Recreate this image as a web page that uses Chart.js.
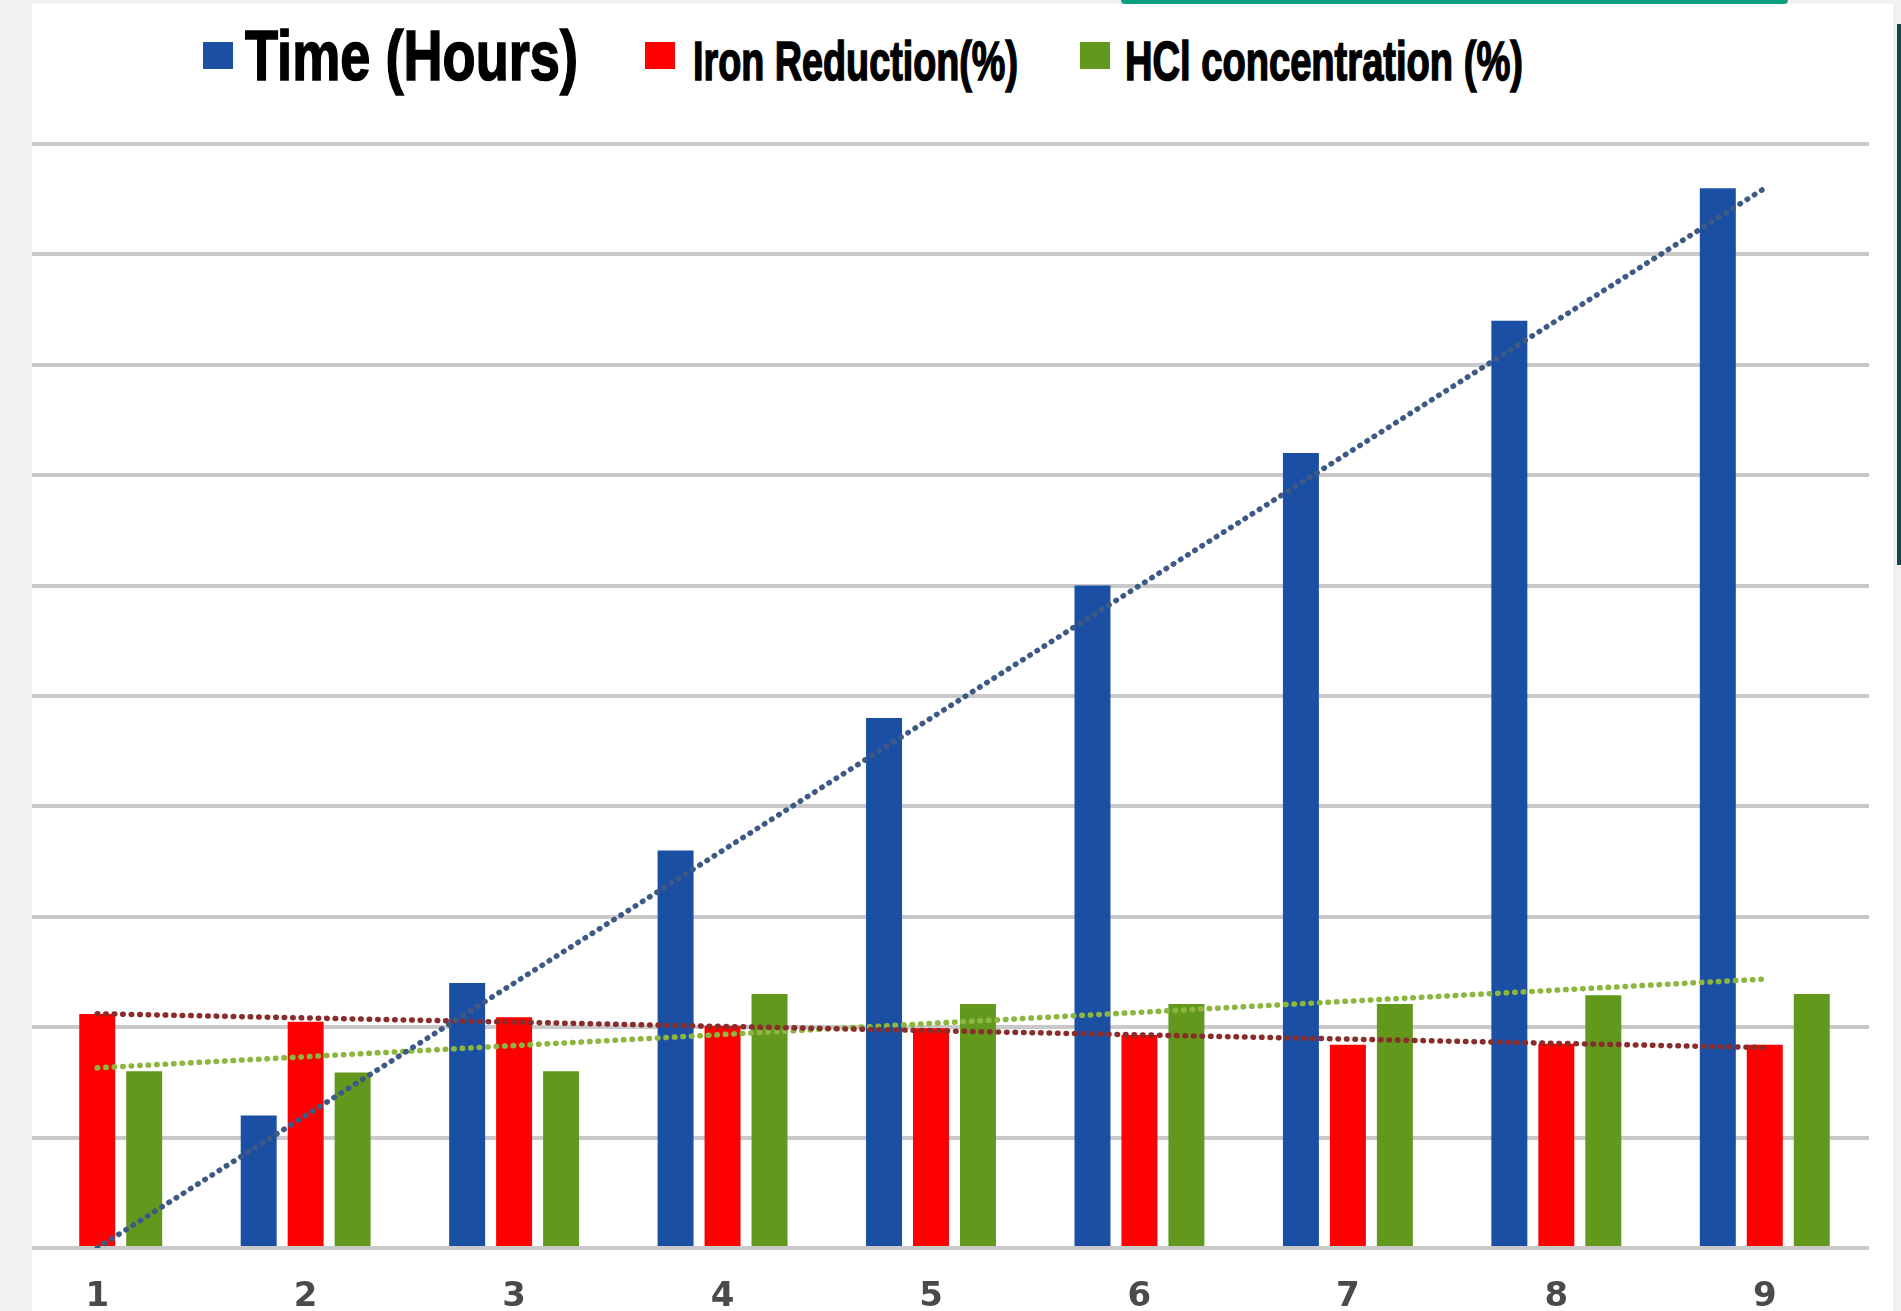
<!DOCTYPE html>
<html>
<head>
<meta charset="utf-8">
<script src="https://cdn.jsdelivr.net/npm/chart.js@4.4.0/dist/chart.umd.min.js"></script>
<style>
    html, body {
        margin: 0;
        padding: 0;
        width: 1901px;
        height: 1311px;
        overflow: hidden;
        background: #f1f1f1;
        position: relative;
    }
    .panel {
        position: absolute;
        left: 32px;
        top: 4px;
        width: 1861px;
        height: 1307px;
        background: #ffffff;
    }
    .top-tab {
        position: absolute;
        left: 1121px;
        top: 0;
        width: 667px;
        height: 4px;
        background: #0ba07f;
        border-radius: 0 0 4px 4px;
    }
    .side-bar {
        position: absolute;
        left: 1897px;
        top: 24px;
        width: 4px;
        height: 541px;
        background: #0d4a50;
    }
    .left-strip {
        position: absolute;
        left: 0;
        top: 0;
        width: 32px;
        height: 1311px;
        background: #f1f1f1;
        z-index: 3;
    }
    #chart-wrap {
        position: absolute;
        left: -7px;
        top: 134px;
        width: 1876px;
        height: 1200px;
        z-index: 2;
    }
    .legend-swatch {
        position: absolute;
        width: 30px;
        height: 27px;
        z-index: 4;
    }
    .legend-text {
        position: absolute;
        white-space: nowrap;
        line-height: 1;
        font-family: "Liberation Sans Narrow", "Liberation Sans", Arial, sans-serif;
        font-weight: bold;
        color: #000;
        -webkit-text-stroke: 1.6px #000;
        transform-origin: left top;
        z-index: 4;
    }
</style>
</head>
<body>
<div class="panel"></div>
<div class="top-tab"></div>
<div class="side-bar"></div>
<div id="chart-wrap"><canvas id="chart-bar"></canvas></div>
<div class="left-strip"></div>
<div id="legend"></div>

<script>
// sample number 1..9
const categories = ['1', '2', '3', '4', '5', '6', '7', '8', '9'];

// values (grid step = 10)
const timeHours = [0, 12, 24, 36, 48, 60, 72, 84, 96];
const ironReduction = [21.2, 20.5, 20.9, 20.1, 19.9, 19.3, 18.4, 18.5, 18.4];
const hclConcentration = [16.0, 15.9, 16.0, 23.0, 22.1, 22.1, 22.1, 22.9, 23.0];

const yTicks = [0, 10, 20, 30, 40, 50, 60, 70, 80, 90, 100];

const seriesNames = ['Time (Hours)', 'Iron Reduction(%)', 'HCl concentration (%)'];
const barColors = ['#1b4fa4', '#fe0000', '#62981c'];
const trendColors = ['#3d5a86', '#8a2c2c', '#8cb63e'];

// least squares linear trendline, like the spreadsheet one
function linearTrend(values) {
    const n = values.length;
    let sx = 0, sy = 0, sxy = 0, sxx = 0;
    values.forEach((v, i) => {
        sx += i; sy += v; sxy += i * v; sxx += i * i;
    });
    const slope = (n * sxy - sx * sy) / (n * sxx - sx * sx);
    const intercept = (sy - slope * sx) / n;
    return values.map((v, i) => intercept + slope * i);
}

const seriesValues = [timeHours, ironReduction, hclConcentration];

const barSets = seriesValues.map((vals, i) => ({
    type: 'bar',
    label: seriesNames[i],
    data: vals,
    backgroundColor: barColors[i],
    borderWidth: 0,
    categoryPercentage: 0.676,
    barPercentage: 0.766,
    order: 1
}));

const trendSets = seriesValues.map((vals, i) => ({
    type: 'line',
    label: seriesNames[i] + ' trend',
    data: linearTrend(vals),
    borderColor: trendColors[i],
    borderWidth: 5.5,
    borderDash: [0.5, 8],
    borderCapStyle: 'round',
    pointRadius: 0,
    fill: false,
    tension: 0,
    order: 0
}));

new Chart(document.getElementById('chart-bar'), {
    type: 'bar',
    data: {
        labels: categories,
        datasets: barSets.concat(trendSets)
    },
    options: {
        responsive: true,
        maintainAspectRatio: false,
        animation: false,
        layout: { padding: { top: 10, left: 0, right: 0, bottom: 0 } },
        plugins: {
            legend: { display: false },
            tooltip: { enabled: false }
        },
        scales: {
            x: {
                grid: { display: false, drawTicks: false },
                border: { display: false },
                ticks: {
                    color: '#4a4a4a',
                    padding: 29,
                    font: { family: 'DejaVu Sans', size: 34, weight: 'bold' }
                },
                afterFit: function(scale) { scale.height = 86; }
            },
            y: {
                min: yTicks[0],
                max: yTicks[yTicks.length - 1],
                afterBuildTicks: function(scale) {
                    scale.ticks = yTicks.map(v => ({ value: v }));
                },
                grid: { color: '#c9c9c9', lineWidth: 4, drawTicks: false },
                border: { display: false },
                ticks: { display: false },
                afterFit: function(scale) { scale.width = 0; }
            }
        }
    }
});

// html legend, the picture uses a bigger face for the first entry
const legendLayout = [
    { sx: 203, sy: 42, tx: 245, size: 70, width: 333 },
    { sx: 645, sy: 42, tx: 693, size: 56, width: 325 },
    { sx: 1080, sy: 42, tx: 1125, size: 56, width: 398 }
];
const legend = document.getElementById('legend');
seriesNames.forEach((name, i) => {
    const lay = legendLayout[i];
    const sw = document.createElement('div');
    sw.className = 'legend-swatch';
    sw.style.left = lay.sx + 'px';
    sw.style.top = lay.sy + 'px';
    sw.style.background = barColors[i];
    legend.appendChild(sw);

    const tx = document.createElement('span');
    tx.className = 'legend-text';
    tx.textContent = name;
    tx.style.fontSize = lay.size + 'px';
    tx.style.left = lay.tx + 'px';
    tx.style.top = (80 - 0.8465 * lay.size) + 'px';
    legend.appendChild(tx);
    const w = tx.getBoundingClientRect().width;
    tx.style.transform = 'scaleX(' + (lay.width / w) + ')';
});
</script>
</body>
</html>
